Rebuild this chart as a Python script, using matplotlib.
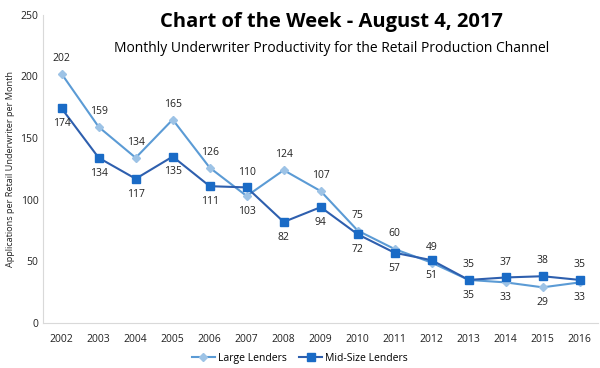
import matplotlib.pyplot as plt

years = ['2002', '2003', '2004', '2005', '2006', '2007', '2008', '2009',
         '2010', '2011', '2012', '2013', '2014', '2015', '2016']
large = [202, 159, 134, 165, 126, 103, 124, 107, 75, 60, 49, 35, 33, 29, 33]
mid = [174, 134, 117, 135, 111, 110, 82, 94, 72, 57, 51, 35, 37, 38, 35]

# which side each label goes: 1 above, -1 below
large_pos = [1, 1, 1, 1, 1, -1, 1, 1, 1, 1, 1, 1, -1, -1, -1]
mid_pos = [-1, -1, -1, -1, -1, 1, -1, -1, -1, -1, -1, -1, 1, 1, 1]

plt.rcParams['font.family'] = ['Open Sans', 'DejaVu Sans']

fig = plt.figure(figsize=(6, 3.68), dpi=100)
ax = fig.add_axes([0.072, 0.122, 0.925, 0.838])

x = range(len(years))
ax.plot(x, large, color='#5B9BD5', lw=1.5, marker='D', ms=4.5,
        mfc='#9DC3E6', mec='#9DC3E6', label='Large Lenders')
ax.plot(x, mid, color='#2E5FAE', lw=1.5, marker='s', ms=6,
        mfc='#1A6BC6', mec='#1A6BC6', label='Mid-Size Lenders')

for i in x:
    ax.annotate(str(large[i]), (i, large[i]), xytext=(0, 11 * large_pos[i]),
                textcoords='offset points', ha='center', va='center',
                fontsize=7.5, color='#222222')
    ax.annotate(str(mid[i]), (i, mid[i]), xytext=(0, 11 * mid_pos[i]),
                textcoords='offset points', ha='center', va='center',
                fontsize=7.5, color='#222222')

ax.set_xlim(-0.5, len(years) - 0.5)
ax.set_ylim(0, 250)
ax.set_yticks(range(0, 251, 50))
ax.set_xticks(list(x))
ax.set_xticklabels(years)
ax.tick_params(length=0, labelsize=7.5, colors='#222222')
ax.tick_params(axis='x', pad=8)
for s in ['top', 'right']:
    ax.spines[s].set_visible(False)
for s in ['left', 'bottom']:
    ax.spines[s].set_color('#D9D9D9')
ax.set_ylabel('Applications per Retail Underwriter per Month', fontsize=6.6,
              color='#222222', labelpad=4)

fig.text(0.553, 0.94, 'Chart of the Week - August 4, 2017', ha='center',
         va='center', fontsize=14.5, fontweight='bold')
fig.text(0.553, 0.868, 'Monthly Underwriter Productivity for the Retail Production Channel',
         ha='center', va='center', fontsize=10)

fig.legend(loc='lower center', bbox_to_anchor=(0.5, -0.015), ncol=2, frameon=False,
           fontsize=7.5, handlelength=2.2, columnspacing=1.2, handletextpad=0.3)

fig.savefig('out.png', dpi=100)
